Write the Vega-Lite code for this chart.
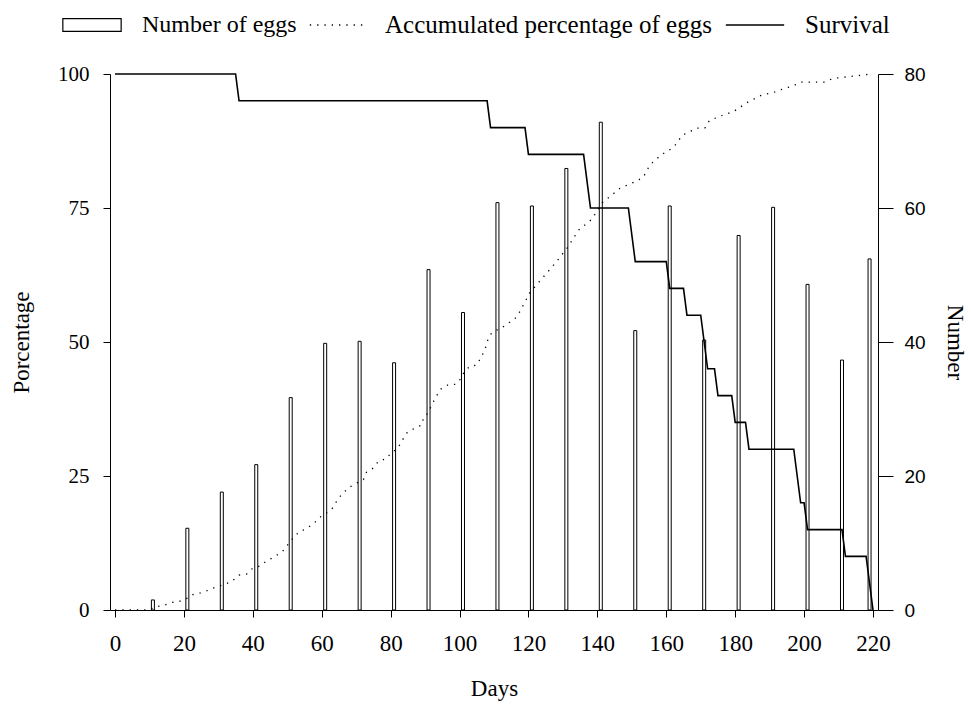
{
  "$schema": "https://vega.github.io/schema/vega-lite/v6.json",
  "width": 768,
  "height": 536,
  "autosize": {"type": "none"},
  "padding": {"left": 110, "top": 74, "right": 93, "bottom": 94},
  "background": "white",
  "config": {
    "view": {"stroke": null},
    "font": "Liberation Serif",
    "axis": {"grid": false, "domainColor": "black", "tickColor": "black", "labelColor": "black", "titleColor": "black", "labelFont": "Liberation Serif", "titleFont": "Liberation Serif", "titleFontWeight": "normal", "domainWidth": 1, "tickWidth": 1},
    "legend": {"orient": "none", "direction": "horizontal", "labelFont": "Liberation Serif", "labelFontSize": 25, "labelColor": "black", "labelOffset": 20, "labelLimit": 600, "symbolStrokeColor": "black"}
  },
  "datasets": {
    "bars": [
      {"day": 11, "n": 1.5, "series": "Number of eggs"},
      {"day": 21, "n": 12.2, "series": "Number of eggs"},
      {"day": 31, "n": 17.6, "series": "Number of eggs"},
      {"day": 41, "n": 21.7, "series": "Number of eggs"},
      {"day": 51, "n": 31.7, "series": "Number of eggs"},
      {"day": 61, "n": 39.8, "series": "Number of eggs"},
      {"day": 71, "n": 40.1, "series": "Number of eggs"},
      {"day": 81, "n": 36.9, "series": "Number of eggs"},
      {"day": 91, "n": 50.8, "series": "Number of eggs"},
      {"day": 101, "n": 44.4, "series": "Number of eggs"},
      {"day": 111, "n": 60.8, "series": "Number of eggs"},
      {"day": 121, "n": 60.3, "series": "Number of eggs"},
      {"day": 131, "n": 65.9, "series": "Number of eggs"},
      {"day": 141, "n": 72.8, "series": "Number of eggs"},
      {"day": 151, "n": 41.7, "series": "Number of eggs"},
      {"day": 161, "n": 60.3, "series": "Number of eggs"},
      {"day": 171, "n": 40.3, "series": "Number of eggs"},
      {"day": 181, "n": 55.9, "series": "Number of eggs"},
      {"day": 191, "n": 60.1, "series": "Number of eggs"},
      {"day": 201, "n": 48.6, "series": "Number of eggs"},
      {"day": 211, "n": 37.3, "series": "Number of eggs"},
      {"day": 219, "n": 52.4, "series": "Number of eggs"}
    ],
    "survival": [
      {"day": 0, "pct": 100}, {"day": 35, "pct": 100}, {"day": 36, "pct": 95},
      {"day": 108, "pct": 95}, {"day": 109, "pct": 90}, {"day": 119, "pct": 90},
      {"day": 120, "pct": 85}, {"day": 136, "pct": 85}, {"day": 138, "pct": 75},
      {"day": 149, "pct": 75}, {"day": 151, "pct": 65}, {"day": 160, "pct": 65},
      {"day": 161, "pct": 60}, {"day": 165, "pct": 60}, {"day": 166, "pct": 55},
      {"day": 170, "pct": 55}, {"day": 172, "pct": 45}, {"day": 174, "pct": 45},
      {"day": 175, "pct": 40}, {"day": 179, "pct": 40}, {"day": 180, "pct": 35},
      {"day": 183, "pct": 35}, {"day": 184, "pct": 30}, {"day": 197, "pct": 30},
      {"day": 199, "pct": 20}, {"day": 200, "pct": 20}, {"day": 201, "pct": 15},
      {"day": 211, "pct": 15}, {"day": 212, "pct": 10}, {"day": 218, "pct": 10},
      {"day": 220, "pct": 0}
    ],
    "accum": [
      {"day": 0, "pct": 0}, {"day": 9.5, "pct": 0}, {"day": 12.1, "pct": 0.6},
      {"day": 14.3, "pct": 0.9}, {"day": 16.5, "pct": 1.4}, {"day": 18.6, "pct": 1.6},
      {"day": 21.0, "pct": 2.2}, {"day": 22.7, "pct": 2.9}, {"day": 24.8, "pct": 3.2},
      {"day": 27.2, "pct": 3.7}, {"day": 29.3, "pct": 4.3}, {"day": 31.5, "pct": 4.7},
      {"day": 33.8, "pct": 5.3}, {"day": 36.0, "pct": 6.5}, {"day": 38.2, "pct": 6.7},
      {"day": 39.8, "pct": 7.7}, {"day": 42.0, "pct": 8.2}, {"day": 44.1, "pct": 9.2},
      {"day": 46.3, "pct": 9.9}, {"day": 48.7, "pct": 11.0}, {"day": 51.4, "pct": 13.2},
      {"day": 53.3, "pct": 14.5}, {"day": 55.6, "pct": 15.2}, {"day": 57.8, "pct": 16.2},
      {"day": 59.7, "pct": 17.4}, {"day": 61.6, "pct": 18.2}, {"day": 63.3, "pct": 19.1},
      {"day": 64.5, "pct": 20.5}, {"day": 66.1, "pct": 21.8}, {"day": 68.3, "pct": 23.0},
      {"day": 70.5, "pct": 23.8}, {"day": 72.1, "pct": 24.3}, {"day": 73.0, "pct": 25.7},
      {"day": 75.0, "pct": 26.5}, {"day": 76.4, "pct": 27.7}, {"day": 78.6, "pct": 28.2},
      {"day": 80.2, "pct": 29.3}, {"day": 82.1, "pct": 30.2}, {"day": 83.4, "pct": 31.7},
      {"day": 84.8, "pct": 33.1}, {"day": 86.9, "pct": 33.9}, {"day": 89.0, "pct": 34.5},
      {"day": 89.6, "pct": 35.9}, {"day": 90.9, "pct": 36.8}, {"day": 91.9, "pct": 38.2},
      {"day": 93.1, "pct": 39.7}, {"day": 94.5, "pct": 41.2}, {"day": 96.9, "pct": 42.1},
      {"day": 98.8, "pct": 42.1}, {"day": 100.3, "pct": 43.1}, {"day": 101.5, "pct": 44.6},
      {"day": 103.1, "pct": 45.5}, {"day": 105.0, "pct": 45.7}, {"day": 106.3, "pct": 47.2},
      {"day": 107.4, "pct": 48.6}, {"day": 108.1, "pct": 50.2}, {"day": 109.3, "pct": 51.7},
      {"day": 113.1, "pct": 53.0}, {"day": 116.7, "pct": 54.7}, {"day": 120.3, "pct": 59.1},
      {"day": 123.2, "pct": 61.3}, {"day": 127.9, "pct": 64.8}, {"day": 131.3, "pct": 67.6},
      {"day": 134.6, "pct": 70.9}, {"day": 138.4, "pct": 72.9}, {"day": 141.3, "pct": 75.9},
      {"day": 146.6, "pct": 78.7}, {"day": 150.9, "pct": 79.9}, {"day": 153.3, "pct": 80.7},
      {"day": 155.2, "pct": 83.0}, {"day": 158.5, "pct": 84.9}, {"day": 162.1, "pct": 86.3},
      {"day": 164.7, "pct": 88.6}, {"day": 169.0, "pct": 89.9}, {"day": 171.2, "pct": 89.9},
      {"day": 172.5, "pct": 91.3}, {"day": 177.1, "pct": 92.5}, {"day": 179.3, "pct": 92.9},
      {"day": 181.4, "pct": 93.8}, {"day": 183.8, "pct": 94.8}, {"day": 188.1, "pct": 96.2},
      {"day": 190.5, "pct": 96.4}, {"day": 192.9, "pct": 97.0}, {"day": 197.2, "pct": 97.9},
      {"day": 199.1, "pct": 98.5}, {"day": 205.8, "pct": 98.5}, {"day": 208.6, "pct": 99.2},
      {"day": 212.9, "pct": 99.5}, {"day": 219.6, "pct": 100}
    ]
  },
  "layer": [
    {
      "data": {"name": "bars"},
      "mark": {"type": "bar", "size": 3, "stroke": "black", "strokeWidth": 1},
      "encoding": {
        "x": {"field": "day", "type": "quantitative", "scale": {"domain": [0, 220], "nice": false, "zero": false},
          "axis": {"title": "Days", "values": [0,20,40,60,80,100,120,140,160,180,200,220], "tickSize": 7, "labelPadding": 15, "labelFontSize": 23, "titleFontSize": 23, "titlePadding": 22, "labelFlush": false}},
        "y": {"field": "n", "type": "quantitative", "scale": {"domain": [0, 80], "nice": false},
          "axis": {"orient": "right", "title": "Number", "values": [0,20,40,60,80], "tickSize": 15, "labelPadding": 11, "labelFont": "Liberation Sans", "labelFontSize": 19, "titleFontSize": 23, "titlePadding": 17, "titleAngle": 90}},
        "fill": {"field": "series", "type": "nominal",
          "scale": {"domain": ["Number of eggs"], "range": ["white"]},
          "legend": {"legendX": -48, "legendY": -79, "title": null, "labelFontSize": 24,
            "symbolType": "M-1,-0.22H1V0.22H-1Z", "symbolSize": 3400, "symbolStrokeColor": "black", "symbolStrokeWidth": 1.2}}
      }
    },
    {
      "layer": [
        {
          "data": {"name": "survival"},
          "transform": [{"calculate": "'Survival'", "as": "series"}],
          "mark": {"type": "line", "strokeWidth": 1.6, "interpolate": "linear"},
          "encoding": {
            "x": {"field": "day", "type": "quantitative"},
            "y": {"field": "pct", "type": "quantitative", "scale": {"domain": [0, 100], "nice": false},
              "axis": {"orient": "left", "title": "Porcentage", "values": [0,25,50,75,100], "tickSize": 7, "labelPadding": 14, "labelFontSize": 21, "titleFontSize": 23, "titlePadding": 24}},
            "stroke": {"field": "series", "type": "nominal",
              "scale": {"domain": ["Survival"], "range": ["black"]},
              "legend": {"legendX": 615, "legendY": -79, "title": null, "symbolType": "stroke", "symbolSize": 3400, "symbolStrokeWidth": 1.6}}
          }
        },
        {
          "data": {"name": "accum"},
          "transform": [{"calculate": "'Accumulated percentage of eggs'", "as": "series"}],
          "mark": {"type": "line", "color": "black", "strokeWidth": 1.3},
          "encoding": {
            "x": {"field": "day", "type": "quantitative"},
            "y": {"field": "pct", "type": "quantitative"},
            "strokeDash": {"field": "series", "type": "nominal",
              "scale": {"domain": ["Accumulated percentage of eggs"], "range": [[1.3, 6]]},
              "legend": {"legendX": 199, "legendY": -79, "title": null, "labelOffset": 16, "symbolType": "stroke", "symbolSize": 3400, "symbolStrokeWidth": 1.3, "symbolStrokeColor": "black"}}
          }
        }
      ]
    }
  ],
  "resolve": {"scale": {"y": "independent"}}
}
